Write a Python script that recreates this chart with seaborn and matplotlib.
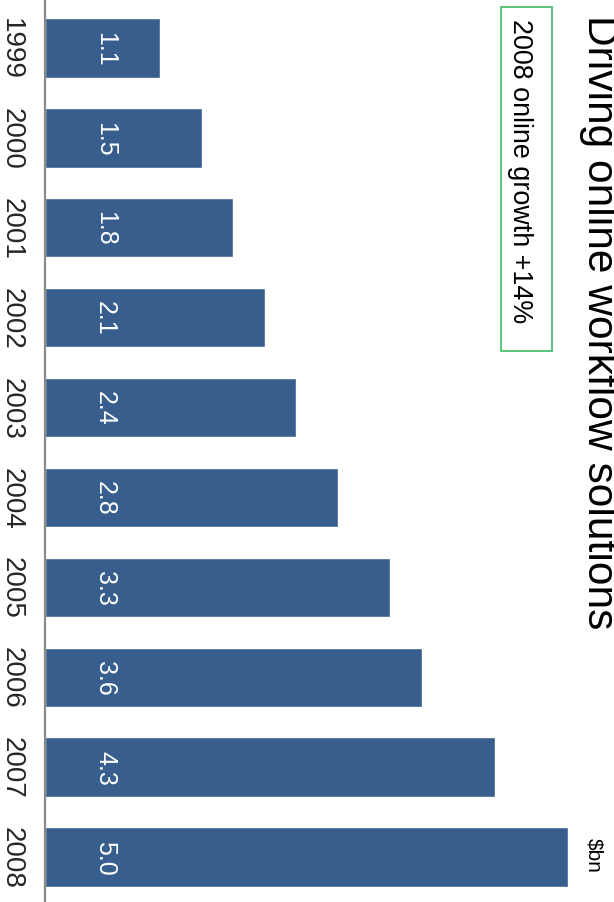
import matplotlib
matplotlib.use("Agg")
import numpy as np
import pandas as pd
import matplotlib.pyplot as plt
import seaborn as sns
from matplotlib.patches import Rectangle

sns.set_style("white")
plt.rcParams['font.family'] = ['Liberation Sans', 'DejaVu Sans']

# data
years = ['1999', '2000', '2001', '2002', '2003', '2004', '2005', '2006', '2007', '2008']
revenue = [1.1, 1.5, 1.8, 2.1, 2.4, 2.8, 3.3, 3.6, 4.3, 5.0]
title = "Driving online workflow solutions"
note = "2008 online growth +14%"
unit = "$bn"

bar_color = "#375e8c"
box_color = "#3dbb61"
W, H = 614, 903

data = pd.DataFrame({'YEAR': years, 'REVENUE': revenue})

fig = plt.figure(figsize=(W / 100, H / 100), dpi=100)
ax = fig.add_axes([45 / W, 0, 1 - 45 / W, 1])

sns.barplot(data=data, x='REVENUE', y='YEAR', orient='h', color=bar_color,
            saturation=1, width=0.66, ax=ax)

ax.set_xlim(0, (W - 45) / 104.6)
ax.set_ylim(len(years) - 0.5 - 0.011, -0.5 - 0.045)
ax.set_xlabel("")
ax.set_ylabel("")
ax.set_xticks([])

# year labels, rotated like the whole chart
ax.set_yticks(range(len(years)))
ax.set_yticklabels(years, rotation=-90, va='center', fontsize=20)
ax.tick_params(axis='y', which='major', length=0, pad=15)
ax.set_yticks(np.arange(-0.5, len(years)), minor=True)
ax.tick_params(axis='y', which='minor', length=5.8, width=1.3, color='#8a8a8a')

for side in ['top', 'right', 'bottom']:
    ax.spines[side].set_visible(False)
ax.spines['left'].set_color('#8a8a8a')
ax.spines['left'].set_linewidth(1.6)

# value labels inside bars
for i, v in enumerate(revenue):
    ax.text(0.507, i, f"{v:.1f}", color='white', fontsize=18, rotation=-90,
            rotation_mode='anchor', ha='center', va='baseline')

# title (runs off the right edge as in the original)
fig.text(588 / W, 1 - 15 / H, title, fontsize=30.6, rotation=-90,
         rotation_mode='anchor', ha='left', va='baseline', color='black')

# growth note with green frame
fig.patches.append(Rectangle((501 / W, 1 - 352 / H), 51 / W, 344 / H,
                             transform=fig.transFigure, fill=False,
                             edgecolor=box_color, linewidth=1.2))
fig.text(513 / W, 1 - 19 / H, note, fontsize=19.4, rotation=-90,
         rotation_mode='anchor', ha='left', va='baseline', color='black')

# unit label
fig.text(588 / W, 1 - 838 / H, unit, fontsize=15, rotation=-90,
         rotation_mode='anchor', ha='left', va='baseline', color='black')

fig.savefig("out.png", dpi=100)
